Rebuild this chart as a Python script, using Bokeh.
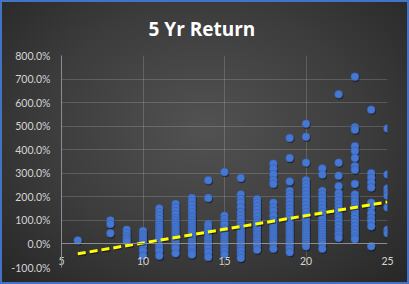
from bokeh.plotting import figure
from bokeh.models import ColumnDataSource, FixedTicker, NumeralTickFormatter, Title, LinearAxis
from bokeh.transform import dodge
from bokeh.embed import file_html
from bokeh.resources import INLINE

# ---- data (x = score, y = 5 yr return as fraction) ----
col_6 = [0.15]
col_8 = [1.0, 0.85, 0.45]
col_9 = [0.6, 0.45, 0.3, 0.2, 0.1]
col_10 = [0.55, 0.4, 0.3, 0.2, 0.1, 0.0, -0.1, -0.3, -0.5]
col_11 = [1.5, 1.35, 1.2, 1.05, 0.9, 0.8, 0.7, 0.6, 0.5, 0.4, 0.3, 0.2, 0.1, 0.0, -0.1, -0.2, -0.3, -0.5]
col_12 = [1.7, 1.55, 1.4, 1.25, 1.1, 1.0, 0.9, 0.8, 0.7, 0.6, 0.5, 0.4, 0.3, 0.2, 0.1, 0.0, -0.1, -0.2, -0.4]
col_13 = [1.95, 1.8, 1.65, 1.5, 1.35, 1.2, 1.1, 1.0, 0.9, 0.8, 0.7, 0.6, 0.5, 0.4, 0.3, 0.2, 0.1, 0.0, -0.1, -0.2, -0.35, -0.45]
col_14 = [2.7, 1.95, 0.85, 0.75, 0.6, 0.5, 0.4, 0.3, 0.2, 0.1, 0.0, -0.1, -0.2, -0.35, -0.55]
col_15 = [3.05, 1.2, 1.05, 0.9, 0.8, 0.65, 0.5, 0.4, 0.3, 0.2, 0.1, 0.0, -0.1, -0.2, -0.3, -0.45]
col_16 = [2.8, 2.1, 1.9, 1.75, 1.55, 1.35, 1.2, 1.05, 0.9, 0.8, 0.7, 0.6, 0.5, 0.4, 0.3, 0.2, 0.1, 0.0, -0.1, -0.2, -0.3, -0.45, -0.6]
col_17 = [1.9, 1.75, 1.6, 1.45, 1.3, 1.15, 1.0, 0.9, 0.8, 0.7, 0.6, 0.5, 0.4, 0.3, 0.2, 0.1, 0.0, -0.1, -0.25]
col_18 = [3.4, 3.2, 2.95, 2.7, 2.55, 1.75, 1.55, 1.4, 1.2, 1.0, 0.9, 0.8, 0.7, 0.6, 0.5, 0.4, 0.3, 0.2, 0.1, 0.0, -0.2]
col_19 = [4.5, 3.65, 2.65, 2.25, 2.1, 1.95, 1.8, 1.65, 1.5, 1.35, 1.2, 1.05, 0.9, 0.8, 0.7, 0.6, 0.5, 0.4, 0.3, 0.2, 0.1, 0.0, -0.1, -0.2, -0.35]
col_20 = [5.1, 4.55, 3.45, 2.7, 2.55, 2.4, 2.25, 2.1, 1.95, 1.8, 1.65, 1.5, 1.35, 1.2, 1.05, 0.9, 0.8, 0.7, 0.6, 0.5, 0.4, 0.3, 0.2, 0.1, 0.0, -0.1]
col_21 = [3.2, 2.95, 2.25, 2.1, 1.95, 1.8, 1.65, 1.5, 1.35, 1.2, 1.05, 0.9, 0.8, 0.7, 0.6, 0.5, 0.4, 0.3, 0.2, 0.1, 0.0, -0.2]
col_22 = [6.35, 3.45, 2.9, 2.45, 2.15, 2.0, 1.85, 1.7, 1.55, 1.4, 1.25, 1.1, 0.95, 0.8, 0.65, 0.5, 0.4, 0.25]
col_23 = [7.1, 4.95, 4.85, 4.15, 3.95, 3.65, 3.3, 3.15, 2.55, 2.1, 1.95, 1.8, 1.65, 1.5, 1.35, 1.2, 1.05, 0.9, 0.75, 0.6, 0.45, 0.3, 0.2]
col_24 = [5.7, 3.0, 2.8, 2.6, 2.4, 1.75, 1.55, 1.3, 1.1, 0.95, 0.75, -0.1]
col_25 = [4.9, 2.95, 2.35, 2.2, 2.05, 1.55, 0.6, 0.45]

columns = {6: col_6, 8: col_8, 9: col_9, 10: col_10, 11: col_11, 12: col_12,
           13: col_13, 14: col_14, 15: col_15, 16: col_16, 17: col_17, 18: col_18,
           19: col_19, 20: col_20, 21: col_21, 22: col_22, 23: col_23, 24: col_24,
           25: col_25}

trend_x = [6, 25]
trend_y = [-0.42, 1.78]

x_ticks = [5, 10, 15, 20, 25]
y_ticks = [-1, 0, 1, 2, 3, 4, 5, 6, 7, 8]

title_text = "5 Yr Return"

xs, ys = [], []
for k, vals in columns.items():
    for v in vals:
        xs.append(k)
        ys.append(v)
src = ColumnDataSource(dict(x=xs, y=ys))
tsrc = ColumnDataSource(dict(x=trend_x, y=trend_y))

W, H = 409, 284
p = figure(width=W, height=H, output_backend="svg", toolbar_location=None,
           x_range=(5, 25), y_range=(-1, 8), x_axis_location=None,
           min_border_left=61, min_border_right=22, min_border_top=54, min_border_bottom=17)

p.styles = {"background": "radial-gradient(ellipse at 50% 45%, #525252 0%, #3c3c3c 55%, #262626 100%)",
            "box-shadow": "inset 0 0 0 2px #4472C4"}
p.border_fill_alpha = 0
p.background_fill_alpha = 0
p.outline_line_color = None

# x axis line drawn at y = 0 (no labels)
xa = LinearAxis(ticker=FixedTicker(ticks=x_ticks), fixed_location=0,
                axis_line_color="#8c8c8c", major_tick_line_color=None,
                minor_tick_line_color=None, major_label_text_alpha=0,
                major_label_text_font_size="1px")
p.add_layout(xa, "below")

# x axis labels (drawn just below the zero line)
xl = LinearAxis(ticker=FixedTicker(ticks=x_ticks), axis_line_color=None,
                major_tick_line_color=None, minor_tick_line_color=None,
                major_tick_out=0, major_tick_in=0,
                major_label_standoff=-11, major_label_text_color="#d4d4d4",
                major_label_text_font="Lato", major_label_text_font_size="10.5px")
p.add_layout(xl, "below")

ya = p.yaxis[0]
ya.ticker = FixedTicker(ticks=y_ticks)
ya.formatter = NumeralTickFormatter(format="0.0%")
ya.axis_line_color = "#8c8c8c"
ya.major_tick_line_color = None
ya.minor_tick_line_color = None
ya.major_tick_out = 0
ya.major_label_standoff = 11
ya.major_label_text_color = "#d4d4d4"
ya.major_label_text_font = "Lato"
ya.major_label_text_font_size = "10.5px"

p.ygrid[0].ticker = FixedTicker(ticks=y_ticks)
p.xgrid[0].ticker = FixedTicker(ticks=x_ticks)
for g in p.grid:
    g.grid_line_color = "#ffffff"
    g.grid_line_alpha = 0.16
    g.grid_line_width = 1

# shadows
p.scatter(x=dodge("x", 0.05), y=dodge("y", -0.05), source=src, size=8,
          fill_color="black", fill_alpha=0.45, line_color=None)
p.scatter(x="x", y="y", source=src, size=8, fill_color="#4677D2",
          line_color="#2f5597", line_width=0.6, line_alpha=0.7)

p.line(x=dodge("x", 0.05), y=dodge("y", -0.05), source=tsrc, line_color="black",
       line_alpha=0.5, line_width=3, line_dash="8 4")
p.line(x="x", y="y", source=tsrc, line_color="#FFFF00", line_width=3, line_dash="8 4")

title = Title(text=title_text, align="left", offset=87, standoff=27,
              text_color="#ffffff", text_font="Open Sans", text_font_style="bold",
              text_font_size="19px")
p.add_layout(title, "above")

open("out.html", "w").write(file_html(p, INLINE))
